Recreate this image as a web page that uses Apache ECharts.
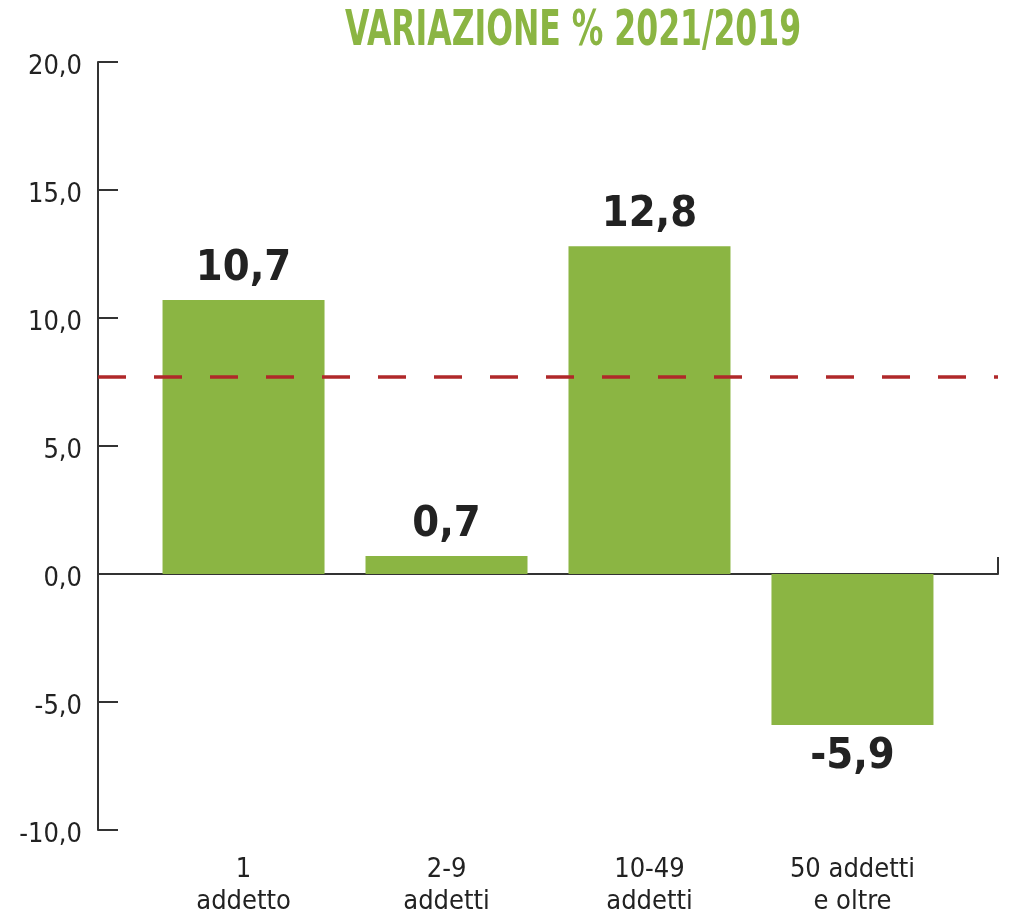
<!DOCTYPE html>
<html>
<head>
<meta charset="utf-8">
<script src="https://cdn.jsdelivr.net/npm/echarts@6/dist/echarts.min.js"></script>
<style>
  html, body { margin: 0; padding: 0; background: #fff; }
  #chart { width: 1015px; height: 918px; }
</style>
</head>
<body>
<div id="chart"></div>
<script>
  // dati
  var categories = ['1\naddetto', '2-9\naddetti', '10-49\naddetti', '50 addetti\ne oltre'];
  var values = [10.7, 0.7, 12.8, -5.9];
  var mediaTotale = 7.7; // linea tratteggiata
  var yTicks = [-10, -5, 0, 5, 10, 15, 20];

  var font = '"Liberation Sans Narrow", "DejaVu Sans Condensed", sans-serif';
  var green = '#8bb543';

  function virgola(v) {
    return v.toFixed(1).replace('.', ',');
  }

  var barData = values.map(function (v, i) {
    return {
      value: [i, v],
      label: { position: v < 0 ? 'bottom' : 'top' }
    };
  });

  var xMin = -0.717, xMax = categories.length - 1 + 0.717;

  var option = {
    animation: false,
    // titolo stretto come nell'originale (font condensato)
    graphic: [{
      type: 'text',
      x: 345,
      y: 7,
      scaleX: 0.70,
      style: {
        text: 'VARIAZIONE % 2021/2019',
        fontFamily: font,
        fontWeight: 'bold',
        fontSize: 50,
        fill: green
      }
    }],
    grid: { left: 98, right: 17, top: 62, bottom: 87 },
    xAxis: [
      {
        type: 'value',
        min: xMin,
        max: xMax,
        axisLine: { onZero: true, lineStyle: { color: '#333', width: 2 } },
        axisTick: { show: true, inside: true, length: 17, customValues: [xMax], lineStyle: { color: '#333', width: 2 } },
        axisLabel: { show: false },
        splitLine: { show: false }
      },
      {
        type: 'value',
        min: xMin,
        max: xMax,
        position: 'bottom',
        axisLine: { show: false, onZero: false },
        axisTick: { show: false },
        splitLine: { show: false },
        axisLabel: {
          customValues: [0, 1, 2, 3],
          margin: 24,
          formatter: function (v) { return categories[Math.round(v)]; },
          fontFamily: font,
          fontSize: 27,
          lineHeight: 32,
          color: '#222',
          align: 'center'
        }
      }
    ],
    yAxis: {
      type: 'value',
      min: -10,
      max: 20,
      interval: 5,
      axisLine: { show: true, onZero: false, lineStyle: { color: '#333', width: 2 } },
      axisTick: { show: true, inside: true, length: 20, lineStyle: { color: '#333', width: 2 } },
      splitLine: { show: false },
      axisLabel: {
        margin: 16,
        verticalAlign: 'top',
        lineHeight: 10,
        fontFamily: font,
        fontSize: 27,
        color: '#222',
        formatter: function (v) { return yTicks.indexOf(v) >= 0 ? virgola(v) : ''; }
      }
    },
    series: [{
      type: 'bar',
      xAxisIndex: 0,
      data: barData,
      barWidth: 162,
      itemStyle: { color: green },
      label: {
        show: true,
        distance: 10,
        fontFamily: font,
        fontWeight: 'bold',
        fontSize: 43,
        color: '#222',
        formatter: function (p) { return virgola(p.value[1]); }
      },
      markLine: {
        silent: true,
        symbol: 'none',
        label: { show: false },
        lineStyle: { color: '#b0282a', width: 3.5, type: [28, 28] },
        data: [{ yAxis: mediaTotale }]
      }
    }]
  };

  var chart = echarts.init(document.getElementById('chart'));
  chart.setOption(option);
</script>
</body>
</html>
